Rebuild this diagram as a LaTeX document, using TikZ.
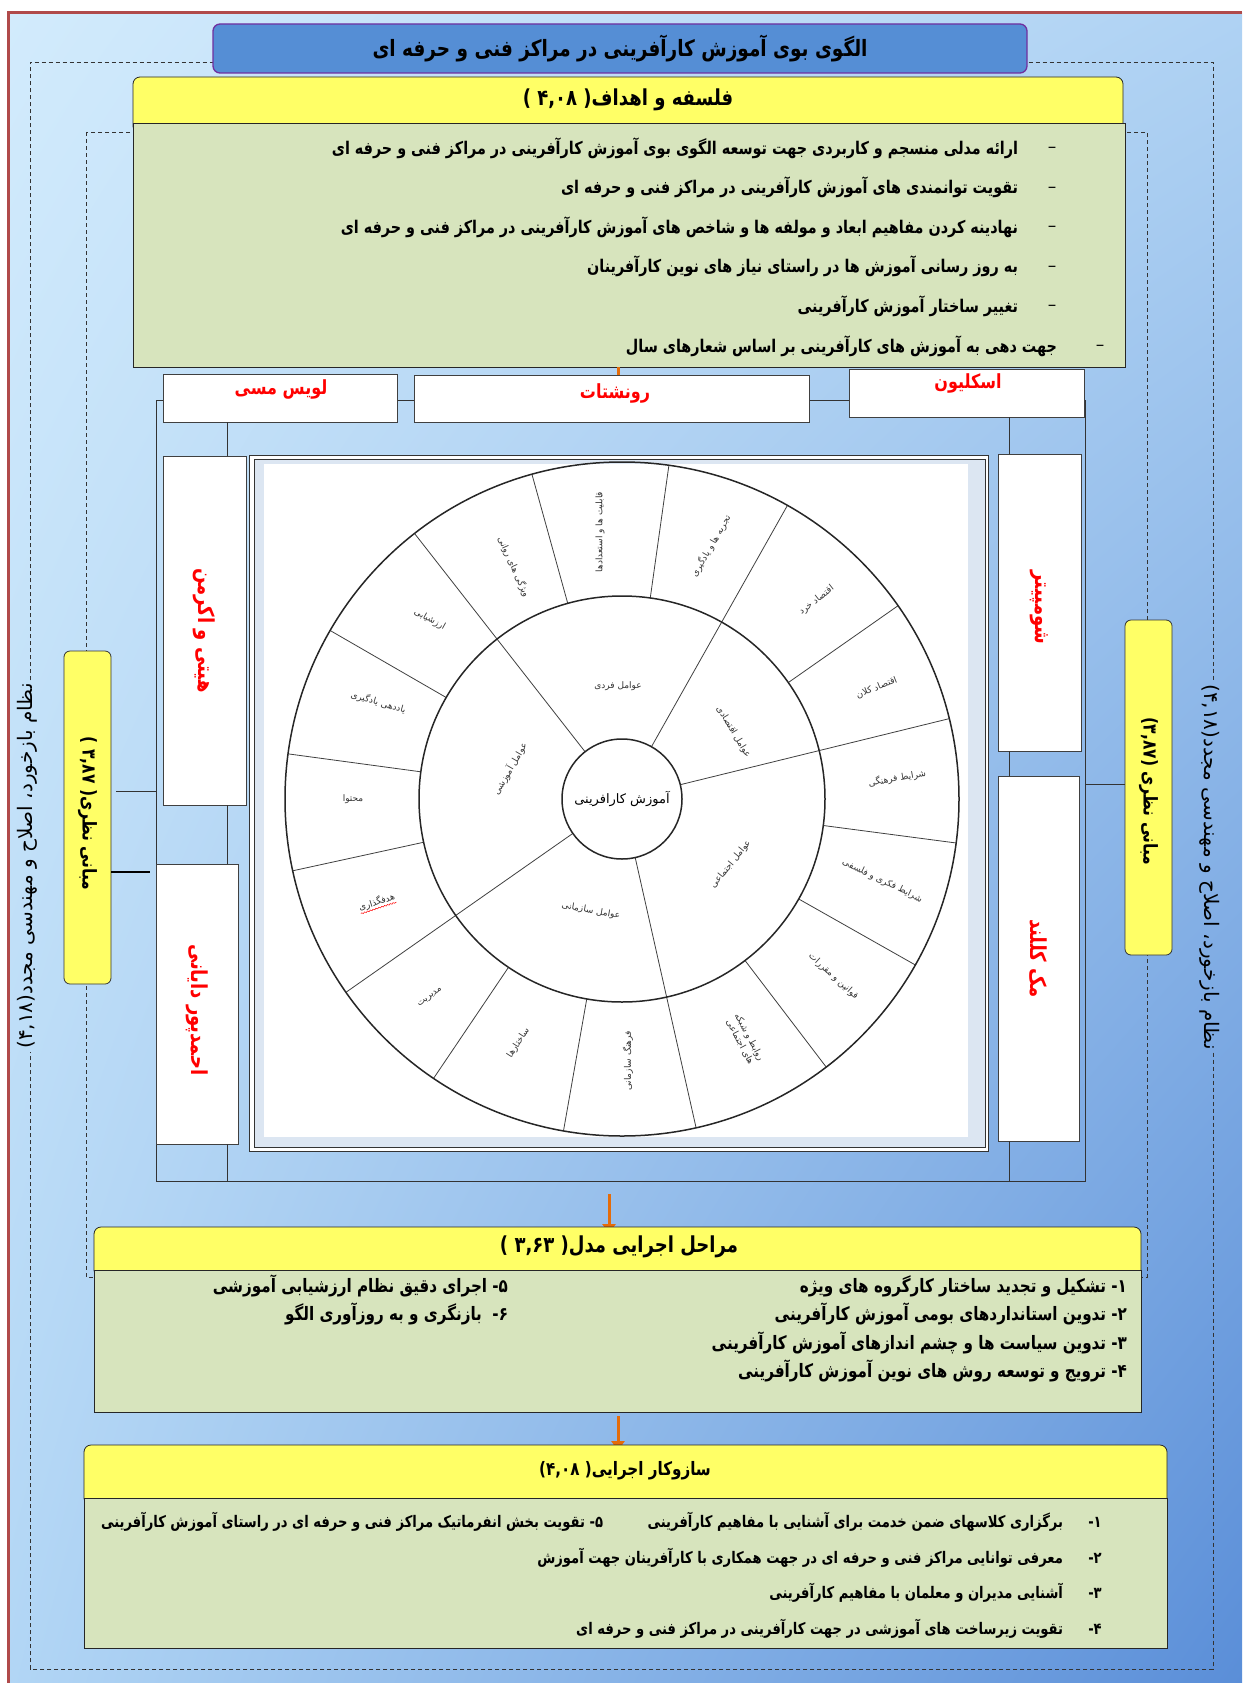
\documentclass[tikz,border=0pt]{standalone}
\usepackage{fontspec}
\usepackage{tikz}
\usetikzlibrary{arrows.meta,decorations.pathmorphing,calc,shadings}
\TeXXeTstate=1
\newfontfamily\fa[Script=Arabic]{DejaVu Sans}
\newfontfamily\fan[Script=Arabic,FakeStretch=0.82]{DejaVu Sans}
\newcommand{\rtl}[1]{\beginR #1\endR}

\definecolor{titleblue}{HTML}{558ED5}
\definecolor{titleedge}{HTML}{7030A0}
\definecolor{headyellow}{HTML}{FFFF66}
\definecolor{bodygreen}{HTML}{D7E4BD}
\definecolor{framered}{HTML}{B04A4A}
\definecolor{namered}{HTML}{FF0000}
\definecolor{arroworange}{HTML}{E46C0A}
\definecolor{bgtl}{HTML}{D2EBFC}
\definecolor{bgtr}{HTML}{AFD2F3}
\definecolor{bgbl}{HTML}{B2D6F5}
\definecolor{bgbr}{HTML}{5A8ED8}
\definecolor{panelblue}{HTML}{DCE6F2}

\tikzstyle{titlebox} = [draw=titleedge, fill=titleblue, rounded corners=7pt, line width=1.3pt]
\tikzstyle{headbox} = [draw=black!85, fill=headyellow, rounded corners=7pt, line width=0.8pt]
\tikzstyle{bodybox} = [draw=black!85, fill=bodygreen, line width=0.8pt]
\tikzstyle{namebox} = [draw=black!75, fill=white, line width=0.7pt]
\tikzstyle{basebox} = [draw=black!80, fill=headyellow, rounded corners=6pt, line width=0.8pt]
\tikzstyle{line} = [draw=black!80, line width=0.8pt]
\tikzstyle{dashline} = [draw=black!80, line width=0.8pt, dash pattern=on 4pt off 3pt]
\tikzstyle{flow} = [draw=arroworange, line width=3pt, -{Triangle[width=13pt,length=10pt]}]
\tikzstyle{spoke} = [draw=black!75, line width=0.8pt]
\tikzstyle{ring} = [draw=black!85, line width=1.5pt]
\tikzstyle{headtext} = [font=\fan\bfseries\fontsize{22}{24}\selectfont]
\tikzstyle{goaltext} = [font=\fan\bfseries\fontsize{17.5}{19}\selectfont]
\tikzstyle{goaldash} = [font=\fa\fontsize{17}{19}\selectfont]
\tikzstyle{steptext} = [font=\fan\bfseries\fontsize{18.5}{20}\selectfont]
\tikzstyle{mechtext} = [font=\fan\bfseries\fontsize{16}{18}\selectfont]
\tikzstyle{topname} = [text=namered, font=\fan\bfseries\fontsize{19.5}{21}\selectfont]
\tikzstyle{sidename} = [text=namered, font=\fan\bfseries\fontsize{22}{24}\selectfont, rotate=-90]
\tikzstyle{basetext} = [font=\fan\bfseries\fontsize{19}{21}\selectfont, rotate=-90]
\tikzstyle{feedtext} = [font=\fa\fontsize{20}{22}\selectfont, inner xsep=3pt]
\tikzstyle{ringtext} = [font=\fa\fontsize{9}{10.5}\selectfont, text=black!80, align=center]

\begin{document}
\begin{tikzpicture}[x=1pt, y=-1pt, inner sep=0pt, outer sep=0pt]
\useasboundingbox (0,0) rectangle (1242,1683);
% background and frame
\shade[upper left=bgtl, upper right=bgtr, lower left=bgbl, lower right=bgbr] (8,13) rectangle (1242,1683);
\draw[framered, line width=3pt] (8,1683) -- (8,13) -- (1242,13);

% feedback loop
\coordinate (dtl) at (30,62);
\coordinate (dbr) at (1213,1669);
\node[feedtext, rotate=90] (fbleft) at (27,866) {\rtl{نظام بازخورد، اصلاح و مهندسی مجدد(۴,۱۸)}};
\node[feedtext, rotate=-90] (fbright) at (1210,867) {\rtl{نظام بازخورد، اصلاح و مهندسی مجدد(۴,۱۸)}};
\draw[dashline] (fbleft.east -| dtl) -- (dtl) -- (dtl -| dbr) -- (fbright.west -| dbr);
\draw[dashline] (fbright.east -| dbr) -- (dbr) -- (dbr -| dtl) -- (fbleft.west -| dtl);
\draw[dashline] (86,132) rectangle (1147,1277);

% title and goals
\node[titlebox, minimum width=814pt, minimum height=49pt] (title) at (620,48.5)
  {\fan\bfseries\fontsize{22.5}{24}\selectfont\rtl{الگوی بوی آموزش کارآفرینی در مراکز فنی و حرفه ای}};
\node[headbox, minimum width=990pt, minimum height=56pt] (philhead) at (628,105) {};
\node[bodybox, minimum width=992pt, minimum height=244pt] (philbody) at (629,245) {};
\node[headtext] (philtitle) at (628,100) {\rtl{فلسفه و اهداف( ۴,۰۸ )}};
\foreach \txt [count=\i] in {ارائه مدلی منسجم و کاربردی جهت توسعه الگوی بوی آموزش کارآفرینی در مراکز فنی و حرفه ای,
  تقویت توانمندی های آموزش کارآفرینی در مراکز فنی و حرفه ای,
  نهادینه کردن مفاهیم ابعاد و مولفه ها و شاخص های آموزش کارآفرینی در مراکز فنی و حرفه ای,
  به روز رسانی آموزش ها در راستای نیاز های نوین کارآفرینان,
  تغییر ساختار آموزش کارآفرینی}
{
  \node[goaltext, anchor=east] (goal\i) at (1018,{148+39.5*(\i-1)}) {\rtl{\txt}};
  \node[goaldash] (goaldash\i) at (1052,{150+39.5*(\i-1)}) {–};
}
\node[goaltext, anchor=east] (goal6) at (1057,346) {\rtl{جهت دهی به آموزش های کارآفرینی بر اساس شعارهای سال}};
\node[goaldash] (goaldash6) at (1100,348) {–};

% theorists frame
\draw[line] (156,400) rectangle (1085,1181);
\node[namebox, minimum width=234pt, minimum height=48pt] (lewis) at (280,398) {};
\node[namebox, minimum width=395pt, minimum height=47pt] (ronsh) at (611.5,398.5) {};
\node[namebox, minimum width=235pt, minimum height=48pt] (skel) at (966.5,393) {};
\node[topname] at (281,389) {\rtl{لویس مسی}};
\node[topname] at (615,393) {\rtl{رونشتات}};
\node[topname] at (968,383) {\rtl{اسکلیون}};
\draw[arroworange, line width=3pt] ([xshift=7pt]ronsh.north) -- ([xshift=7pt]ronsh.north |- philbody.south);

\node[namebox, minimum width=349pt, minimum height=83pt, rotate=-90] (hitti) at (204.5,630.5) {};
\node[namebox, minimum width=280pt, minimum height=82pt, rotate=-90] (ahmad) at (197,1004) {};
\node[namebox, minimum width=297pt, minimum height=83pt, rotate=-90] (schump) at (1039.5,602.5) {};
\node[namebox, minimum width=365pt, minimum height=81pt, rotate=-90] (mcc) at (1038.5,958.5) {};
\node[sidename] at (hitti) {\rtl{هیتی و اکرمن}};
\node[sidename] at ([yshift=-6pt]ahmad.center) {\rtl{احمدپور دایانی}};
\node[sidename] at ([yshift=-5pt]schump.center) {\rtl{شومپیتر}};
\node[sidename] at (mcc) {\rtl{مک کللند}};
\coordinate (lv) at (227,0);
\coordinate (rv) at (1009,0);
\draw[line] (lewis.south -| lv) -- (hitti.west -| lv);
\draw[line] (hitti.east -| lv) -- (ahmad.west -| lv);
\draw[line] (ahmad.east -| lv) -- (lv |- 0,1181);
\draw[line] (skel.south -| rv) -- (schump.west -| rv);
\draw[line] (schump.east -| rv) -- (mcc.west -| rv);
\draw[line] (mcc.east -| rv) -- (rv |- 0,1181);

% theoretical bases
\node[basebox, minimum width=333pt, minimum height=47pt, rotate=-90] (lbase) at (87.5,817.5) {};
\node[basebox, minimum width=335pt, minimum height=47pt, rotate=-90] (rbase) at (1148.5,787.5) {};
\node[basetext] at ([yshift=4pt]lbase.center) {\rtl{مبانی نظری( ۳,۸۷ )}};
\node[basetext] at ([yshift=-4pt]rbase.center) {\rtl{مبانی نظری (۳,۸۷)}};
\draw[line] ([xshift=5pt]lbase.north |- 0,791) -- (156,791);
\draw[draw=black, line width=2pt] (lbase.north |- 0,872) -- (150,872);
\draw[line] (1085,784) -- (rbase.south |- 0,784);

% wheel panel
\draw[line, fill=white] (249,455) rectangle (988,1151);
\draw[draw=black!80, line width=0.6pt, fill=panelblue] (254,459) rectangle (985,1147);
\fill[white] (264,464) rectangle (968,1137);

\begin{scope}[shift={(622,799)}, y=1pt]
  \foreach \a in {128,60.6,13.8,-77.3,-145}
    \draw[spoke] (\a:60) -- (\a:337);
  \foreach \a in {105.5,82,35,-7.5,-29.5,-52.7,-100,-124,-167.7,172.3,150}
    \draw[spoke] (\a:203) -- (\a:337);
  \draw[ring] (0,0) circle (337);
  \draw[ring] (0,0) circle (203);
  \node[ring, circle, minimum size=120pt, fill=white, font=\fa\fontsize{13}{15}\selectfont] (core) at (0,0) {\rtl{آموزش کارافرینی}};
  % outer factors
  \foreach \a/\r/\rot/\txt [count=\i] in {94.7/268/90/{قابلیت ها و استعدادها},
      70.6/268/60/{تجربه ها و یادگیری}, 45.6/278/38/{اقتصاد خرد}, 23.6/278/22/{اقتصاد کلان},
      4.3/276/10/{شرایط فرهنگی}, -17.5/273/-26/{شرایط فکری و فلسفی}, -40/276/-42/{قوانین و مقررات},
      -88.7/262/90/{فرهنگ سازمانی}, -113/265/57/{ساختارها}, 226/276/37/{مدیریت},
      180/269/0/{محتوا}, 158.4/262/-16/{یاددهی یادگیری}, 137/263/-29/{ارزشیابی}, 115/256/-66/{ویژگی های روانی}}
    \node[ringtext, rotate=\rot] (outer\i) at (\a:\r) {\rtl{\txt}};
  \node[ringtext, rotate=-62] (network) at (-63:270) {\rtl{روابط و شبکه}\\\rtl{های اجتماعی}};
  \node[ringtext, rotate=18, inner ysep=1pt] (goalset) at (202.8:266) {\rtl{هدفگذاری}};
  \draw[red, line width=0.5pt, decorate, decoration={snake, amplitude=0.6pt, segment length=3pt}] (goalset.south west) -- (goalset.south east);
  % inner factors
  \foreach \a/\r/\rot/\txt [count=\i] in {92/113/0/{عوامل فردی}, 31/130/-59/{عوامل اقتصادی},
      -31/127/51/{عوامل اجتماعی}, -105.5/116/-10/{عوامل سازمانی}, 165/116/60/{عوامل آموزشی}}
    \node[ringtext, rotate=\rot] (inner\i) at (\a:\r) {\rtl{\txt}};
\end{scope}

% implementation steps
\coordinate (a1) at (609,1194);
\draw[flow] (a1) -- ([yshift=-7pt]a1 |- 0,1227);
\node[headbox, minimum width=1047pt, minimum height=50pt] (stephead) at (617.5,1252) {};
\node[bodybox, minimum width=1047pt, minimum height=142pt] (stepbody) at (617.5,1341) {};
\node[headtext] (steptitle) at (619,1247) {\rtl{مراحل اجرایی مدل( ۳,۶۳ )}};
\foreach \txt [count=\i] in {۱\kern0pt- تشکیل و تجدید ساختار کارگروه های ویژه,
  ۲\kern0pt- تدوین استانداردهای بومی آموزش کارآفرینی,
  ۳\kern0pt- تدوین سیاست ها و چشم اندازهای آموزش کارآفرینی,
  ۴\kern0pt- ترویج و توسعه روش های نوین آموزش کارآفرینی}
  \node[steptext, anchor=east] (step\i) at (1127,{1286+28.3*(\i-1)}) {\rtl{\txt}};
\node[steptext, anchor=east] (step5) at (508,1286) {\rtl{۵\kern0pt- اجرای دقیق نظام ارزشیابی آموزشی}};
\node[steptext, anchor=east] (step6) at (508,1314) {\rtl{۶\kern0pt-\ \ بازنگری و به روزآوری الگو}};

% executive mechanism
\coordinate (a2) at (618,1416);
\draw[flow] (a2) -- ([yshift=-6pt]a2 |- 0,1445);
\node[headbox, minimum width=1083pt, minimum height=60pt] (mechhead) at (625.5,1475) {};
\node[bodybox, minimum width=1083pt, minimum height=150pt] (mechbody) at (625.5,1573) {};
\node[headtext, font=\fan\bfseries\fontsize{18.5}{20}\selectfont] (mechtitle) at (625,1471) {\rtl{سازوکار اجرایی( ۴,۰۸)}};
\foreach \txt/\nn/\yy [count=\i] in {{برگزاری کلاسهای ضمن خدمت برای آشنایی با مفاهیم کارآفرینی}/۱/1522,
  {معرفی توانایی مراکز فنی و حرفه ای در جهت همکاری با کارآفرینان جهت آموزش}/۲/1558,
  {آشنایی مدیران و معلمان با مفاهیم کارآفرینی}/۳/1593,
  {تقویت زیرساخت های آموزشی در جهت کارآفرینی در مراکز فنی و حرفه ای}/۴/1629}
{
  \node[mechtext, anchor=east] (mech\i) at (1063,\yy) {\rtl{\txt}};
  \node[mechtext] (mechnum\i) at (1095,\yy) {\rtl{\nn\kern0pt-}};
}
\node[mechtext, anchor=east] (mech5) at (603,1522) {\rtl{۵\kern0pt- تقویت بخش انفرماتیک مراکز فنی و حرفه ای در راستای آموزش کارآفرینی}};
\end{tikzpicture}
\end{document}
